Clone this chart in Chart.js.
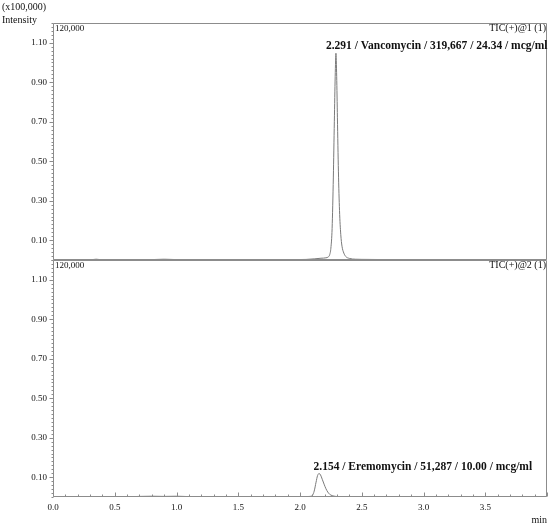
<!DOCTYPE html>
<html><head><meta charset="utf-8">
<script src="https://cdn.jsdelivr.net/npm/chart.js@4"></script>
<style>
html,body{margin:0;padding:0;background:#fff;}
#wrap{position:relative;width:550px;height:526px;overflow:hidden;}
#c1{position:absolute;left:0;top:0;}
#c2{position:absolute;left:0;top:258px;}
</style></head><body>
<div id="wrap"><canvas id="c1" width="550" height="262"></canvas><canvas id="c2" width="550" height="268"></canvas></div>
<script>
// ---- data (intensity in x100,000) ----
const xTickLabels = [0.0, 0.5, 1.0, 1.5, 2.0, 2.5, 3.0, 3.5];
const yTickLabels = [0.10, 0.30, 0.50, 0.70, 0.90, 1.10];

const vancoTime = [0.00, 0.30, 0.35, 0.40, 0.80, 0.90, 1.00, 1.20, 1.60, 1.90, 2.05, 2.12, 2.17, 2.21, 2.23, 2.24, 2.25, 2.26, 2.27, 2.278, 2.285, 2.291, 2.297, 2.303, 2.311, 2.32, 2.33, 2.34, 2.355, 2.37, 2.40, 2.45, 2.55, 2.70, 2.85, 3.00, 4.00];
const vancoIntensity = [0.000, 0.001, 0.004, 0.001, 0.002, 0.004, 0.002, 0.001, 0.002, 0.002, 0.003, 0.006, 0.009, 0.011, 0.016, 0.026, 0.06, 0.16, 0.42, 0.70, 0.93, 1.047, 0.93, 0.72, 0.45, 0.25, 0.13, 0.07, 0.035, 0.018, 0.008, 0.004, 0.003, 0.002, 0.001, 0.000, 0.000];

const eremoTime = [0.00, 0.60, 0.70, 0.80, 0.90, 1.00, 1.10, 1.50, 1.90, 2.05, 2.08, 2.10, 2.115, 2.13, 2.142, 2.154, 2.166, 2.18, 2.195, 2.21, 2.225, 2.24, 2.26, 2.29, 2.35, 2.50, 4.00];
const eremoIntensity = [0.000, 0.001, 0.003, 0.004, 0.003, 0.004, 0.002, 0.001, 0.002, 0.002, 0.003, 0.008, 0.03, 0.075, 0.108, 0.119, 0.112, 0.09, 0.065, 0.042, 0.025, 0.014, 0.007, 0.003, 0.001, 0.000, 0.000];

const peakTimes = [2.291, 2.154];
const peakHeights = [1.047, 0.119];
const peakTexts = ['2.291 / Vancomycin / 319,667 / 24.34 / mcg/ml', '2.154 / Eremomycin / 51,287 / 10.00 / mcg/ml'];
const traceNames = ['TIC(+)@1 (1)', 'TIC(+)@2 (1)'];
const fullScaleText = '120,000';

// ---- styles ----
const SERIF = '"Liberation Serif", "Times New Roman", serif';
const AXIS = '#8c8c8c';
const TRACE = '#7a7a7a';
const TEXT = '#111';

const decor = {
  id: 'decor',
  afterDraw(chart, args, o) {
    const {ctx, chartArea: a, scales: {x, y}} = chart;
    const L = Math.round(a.left) + 0.5, R = Math.round(a.right) - 0.5;
    const T = Math.round(a.top) + 0.5, B = Math.round(a.bottom) - 0.5;
    ctx.save();
    ctx.strokeStyle = AXIS; ctx.lineWidth = 1;
    ctx.beginPath();
    ctx.moveTo(L, T); ctx.lineTo(R, T); ctx.lineTo(R, B); ctx.lineTo(L, B); ctx.closePath();
    ctx.stroke();
    ctx.beginPath();
    for (let i = 0; i <= 60; i++) {
      const v = i / 50;
      const py = Math.round(y.getPixelForValue(v)) + 0.5;
      const len = (i % 10 === 5) ? 4 : 2;
      ctx.moveTo(L - len, py); ctx.lineTo(L, py);
    }
    if (o.xTicks) {
      for (let i = 0; i <= 40; i++) {
        const px = Math.round(x.getPixelForValue(i / 10)) + 0.5;
        const len = (i % 5 === 0) ? 4 : 2;
        ctx.moveTo(px, B); ctx.lineTo(px, B - len);
      }
    }
    ctx.stroke();
    ctx.fillStyle = TEXT;
    ctx.textBaseline = 'middle';
    ctx.font = '9px ' + SERIF;
    ctx.textAlign = 'left';
    ctx.fillText(fullScaleText, a.left + 2, a.top + 6);
    ctx.font = '10px ' + SERIF;
    ctx.textAlign = 'right';
    ctx.fillText(o.name, a.right - 1, a.top + 5);
    if (o.header) {
      ctx.textAlign = 'left';
      ctx.fillText('(x100,000)', 2, 7);
      ctx.fillText('Intensity', 2, 20.5);
    }
    ctx.font = 'bold 11.5px ' + SERIF;
    ctx.textAlign = 'left';
    ctx.textBaseline = 'bottom';
    const px = x.getPixelForValue(o.peakT), py = y.getPixelForValue(o.peakV);
    ctx.fillText(o.peakText, px + o.dx, py - 1);
    ctx.restore();
  }
};

function yAxis() {
  return {
    min: 0, max: 1.2,
    afterFit: s => { s.width = 53; s.paddingTop = 0; s.paddingBottom = 0; },
    afterBuildTicks: s => { s.ticks = yTickLabels.map(v => ({value: v})); },
    grid: {display: false, drawTicks: false},
    border: {display: false},
    ticks: {padding: 6, color: TEXT, font: {family: SERIF, size: 9}, callback: v => Number(v).toFixed(2)}
  };
}

function makeChart(id, times, vals, idx, bottom) {
  const pts = times.map((t, i) => ({x: t, y: vals[i]}));
  return new Chart(document.getElementById(id), {
    type: 'line',
    data: {datasets: [{data: pts, borderColor: TRACE, borderWidth: 1, pointRadius: 0, cubicInterpolationMode: 'monotone', fill: false}]},
    options: {
      responsive: false, animation: false, devicePixelRatio: 1,
      layout: {padding: bottom ? {top: 2, right: 3, left: 0, bottom: 0} : {top: 23, right: 3, left: 0, bottom: 2}},
      plugins: {
        legend: {display: false}, tooltip: {enabled: false},
        decor: {name: traceNames[idx], header: !bottom, xTicks: bottom, peakT: peakTimes[idx], peakV: peakHeights[idx], peakText: peakTexts[idx], dx: bottom ? -5.5 : -10}
      },
      scales: {
        x: {
          type: 'linear', min: 0, max: 4.0, display: bottom,
          afterFit: s => { s.height = bottom ? 29 : 0; s.paddingLeft = 0; s.paddingRight = 0; },
          afterBuildTicks: s => { s.ticks = xTickLabels.map(v => ({value: v})); },
          grid: {display: false, drawTicks: false},
          border: {display: false},
          ticks: {padding: 5, color: TEXT, font: {family: SERIF, size: 9}, maxRotation: 0, autoSkip: false, callback: v => Number(v).toFixed(1)},
          title: {display: true, text: 'min', align: 'end', color: TEXT, font: {family: SERIF, size: 10}, padding: {top: 0, bottom: 0}}
        },
        y: yAxis()
      }
    },
    plugins: [decor]
  });
}

makeChart('c1', vancoTime, vancoIntensity, 0, false);
makeChart('c2', eremoTime, eremoIntensity, 1, true);
</script>
</body></html>
